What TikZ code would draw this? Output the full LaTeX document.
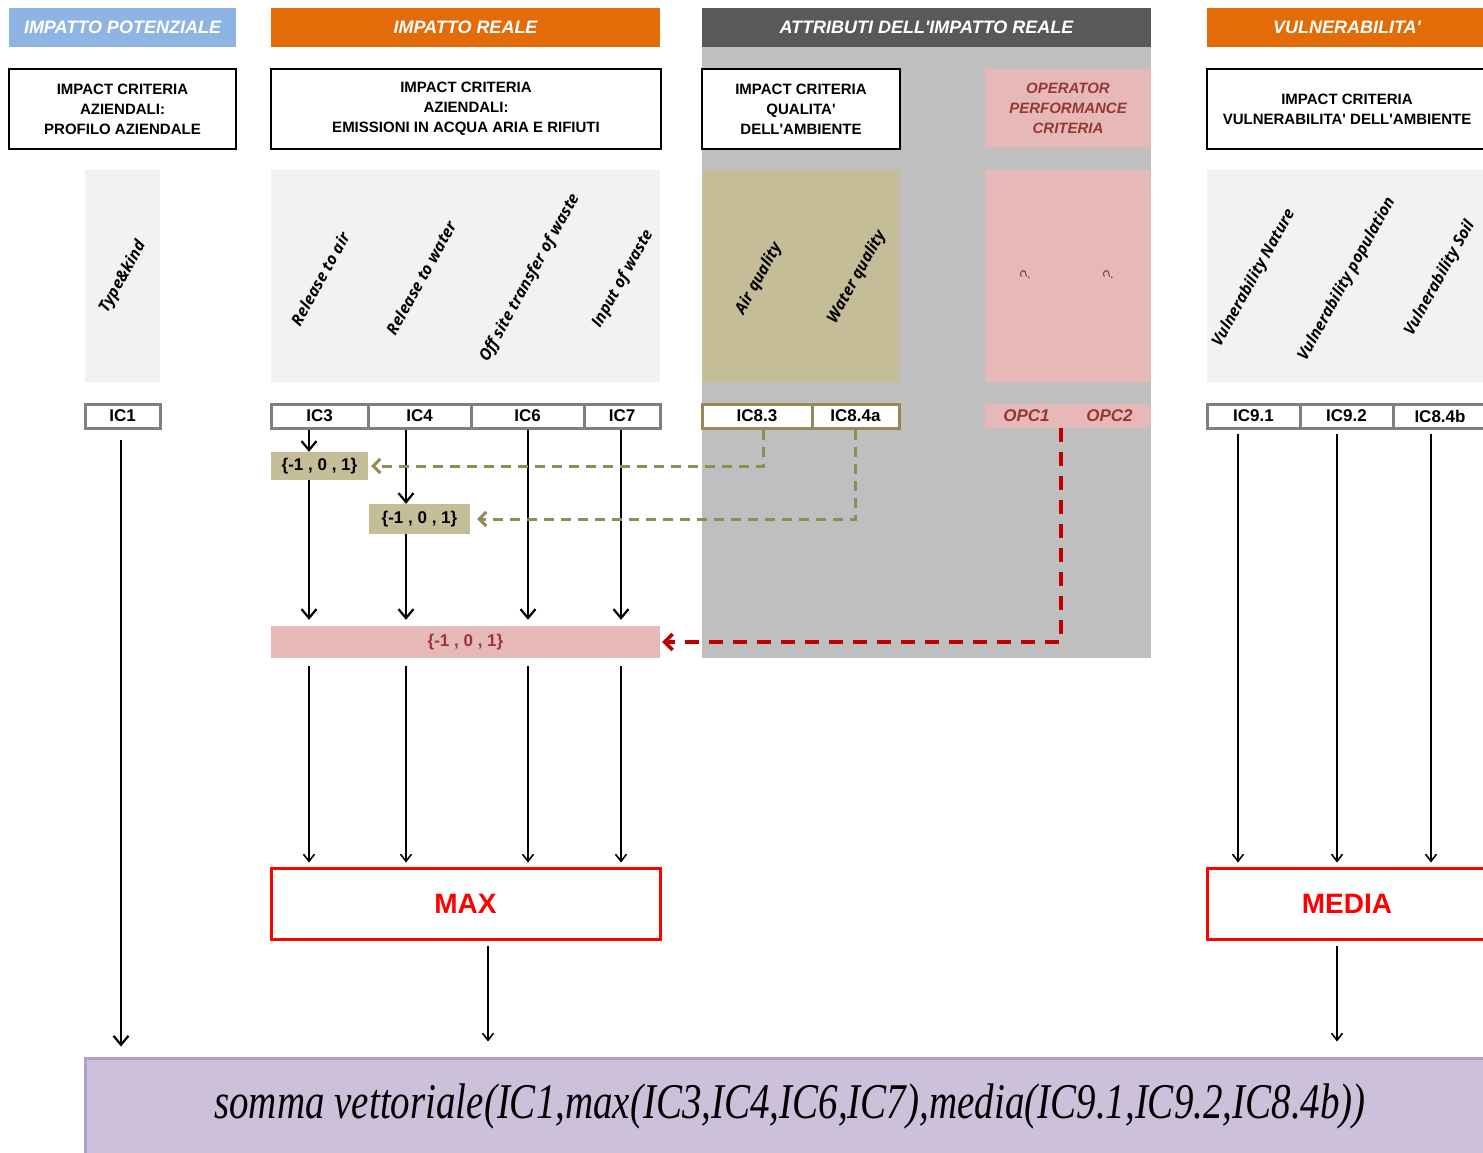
\documentclass[tikz,border=0pt]{standalone}
\usepackage{fontspec}
\setmainfont{Liberation Sans}
\newfontfamily\labfont{Open Sans}
\newfontfamily\formfont{Liberation Serif}[FakeStretch=0.78]
\usetikzlibrary{arrows.meta}
\definecolor{potblue}{RGB}{141,180,226}
\definecolor{orangeh}{RGB}{227,108,9}
\definecolor{darkh}{RGB}{89,89,89}
\definecolor{graybg}{RGB}{191,191,191}
\definecolor{lightpanel}{RGB}{242,242,242}
\definecolor{khaki}{RGB}{196,189,151}
\definecolor{khakiline}{RGB}{148,138,84}
\definecolor{pinkc}{RGB}{230,185,184}
\definecolor{opcred}{RGB}{150,55,53}
\definecolor{dashred}{RGB}{192,0,0}
\definecolor{icgray}{RGB}{128,128,128}
\definecolor{lilac}{RGB}{204,192,218}
\definecolor{lilacline}{RGB}{178,161,199}
\newcommand{\ap}{\textquotesingle}
\begin{document}
\begin{tikzpicture}
[x=1pt,y=-1pt,
 hdr/.style={text=white, font=\fontsize{18}{20}\selectfont\bfseries\itshape, minimum height=39, inner sep=0},
 crit/.style={draw=black, line width=2.5pt, fill=white, align=center, font=\fontsize{15}{20}\selectfont\bfseries, minimum height=80, inner sep=0},
 panel/.style={fill=lightpanel, minimum height=212, inner sep=0},
 lbl/.style={rotate=61, font=\labfont\fontsize{16}{18}\selectfont\bfseries\itshape},
 ic/.style={draw=icgray, line width=3pt, fill=white, minimum height=24, inner sep=0, font=\fontsize{17}{18}\selectfont\bfseries},
 opc/.style={fill=pinkc, text=opcred, inner sep=0, font=\fontsize{17}{18}\selectfont\bfseries\itshape},
 setbox/.style={fill=khaki, inner sep=0, font=\fontsize{17}{18}\selectfont\bfseries},
 result/.style={draw=red, line width=3pt, fill=white, text=red, minimum height=71, inner sep=0, font=\fontsize{28}{30}\selectfont\bfseries},
 arr/.style={line width=2.2pt, -{Straight Barb[length=9pt,width=15pt]}},
 thinarr/.style={line width=1.6pt, -{Straight Barb[length=7pt,width=11pt]}},
 kdash/.style={khakiline, line width=3pt, dash pattern=on 10pt off 7pt, -{Straight Barb[length=7pt,width=14pt]}},
 rdash/.style={dashred, line width=3.5pt, dash pattern=on 14pt off 10pt, -{Straight Barb[length=8pt,width=16pt]}}]
\useasboundingbox (0,0) rectangle (1483,1152);
\clip (0,0) rectangle (1483,1152);
\fill[white] (0,0) rectangle (1483,1152);
% fondo attributi
\fill[graybg] (702,47) rectangle (1151,658);
% intestazioni
\node[hdr, fill=potblue, minimum width=227] (hpot) at (122.5,27.5) {IMPATTO POTENZIALE};
\node[hdr, fill=orangeh, minimum width=389] (hreal) at (465.5,27.5) {IMPATTO REALE};
\node[hdr, fill=darkh, minimum width=449] (hattr) at (926.5,27.5) {ATTRIBUTI DELL\ap IMPATTO REALE};
\node[hdr, fill=orangeh, minimum width=280] (hvul) at (1347,27.5) {VULNERABILITA\ap};
% impact criteria
\node[crit, minimum width=227] (cpro) at (122.5,109) {IMPACT CRITERIA\\AZIENDALI:\\PROFILO AZIENDALE};
\node[crit, minimum width=390] (cemi) at (466,109) {IMPACT CRITERIA\\AZIENDALI:\\EMISSIONI IN ACQUA ARIA E RIFIUTI};
\node[crit, minimum width=198] (cqua) at (801,109) {IMPACT CRITERIA\\QUALITA\ap\\DELL\ap AMBIENTE};
\node[opc, align=center, font=\fontsize{15}{20}\selectfont\bfseries\itshape, minimum width=166, minimum height=78] (copc) at (1068,108) {OPERATOR\\PERFORMANCE\\CRITERIA};
\node[crit, minimum width=280] (cvul) at (1347,109) {IMPACT CRITERIA\\VULNERABILITA{\ap} DELL\ap AMBIENTE};
% pannelli
\node[panel, minimum width=75] (ptyp) at (122.5,276) {};
\node[panel, minimum width=389] (pemi) at (465.5,276) {};
\node[panel, fill=khaki, minimum width=197] (pqua) at (800.5,276) {};
\node[panel, fill=pinkc, minimum width=166] (popc) at (1068,276) {};
\node[panel, minimum width=280] (pvul) at (1347,276) {};
\node[lbl] (ltyp) at (123,277) {Type\&kind};
\node[lbl] (lair) at (320,279) {Release to air};
\node[lbl] (lwat) at (421,278) {Release to water};
\node[lbl] (loff) at (530,278) {Off site transfer of waste};
\node[lbl] (linp) at (623,279) {Input of waste};
\node[lbl] (laq) at (759,279) {Air quality};
\node[lbl] (lwq) at (857,277) {Water quality};
\node[lbl, text=opcred, font=\fontsize{15}{16}\selectfont] (lq1) at (1025,275) {?};
\node[lbl, text=opcred, font=\fontsize{15}{16}\selectfont] (lq2) at (1108,275) {?};
\node[lbl] (lvn) at (1254,278) {Vulnerability Nature};
\node[lbl] (lvp) at (1347,279) {Vulnerability population};
\node[lbl] (lvs) at (1440,278) {Vulnerability Soil};
% criteri IC
\node[ic, minimum width=75] (ic1) at (122.5,416) {IC1};
\node[ic, minimum width=97] (ic3) at (319.5,416) {IC3};
\node[ic, minimum width=103] (ic4) at (419.5,416) {IC4};
\node[ic, minimum width=113] (ic6) at (527.5,416) {IC6};
\node[ic, minimum width=76] (ic7) at (622,416) {IC7};
\node[ic, draw=khakiline, minimum width=110] (ic83) at (757,416) {IC8.3};
\node[ic, draw=khakiline, minimum width=87] (ic84a) at (855.5,416) {IC8.4a};
\node[opc, minimum width=83, minimum height=24] (opc1) at (1026.5,416) {OPC1};
\node[opc, minimum width=83, minimum height=24] (opc2) at (1109.5,416) {OPC2};
\node[ic, minimum width=93] (ic91) at (1253.5,416) {IC9.1};
\node[ic, minimum width=93] (ic92) at (1346.5,416) {IC9.2};
\node[ic, minimum width=94] (ic84b) at (1440,416) {IC8.4b};
% insiemi
\node[setbox, minimum width=97, minimum height=28] (k1) at (319.5,466) {\{-1 , 0 , 1\}};
\node[setbox, minimum width=101, minimum height=30] (k2) at (419.5,519) {\{-1 , 0 , 1\}};
\node[setbox, fill=pinkc, text=opcred, minimum width=389, minimum height=32] (ph) at (465.5,642) {\{-1 , 0 , 1\}};
\node[result, minimum width=389] (max) at (465.5,903.5) {MAX};
\node[result, minimum width=280] (media) at (1347,903.5) {MEDIA};
\node[draw=lilacline, fill=lilac, line width=3pt, minimum width=1410, minimum height=96, inner sep=0,
  font=\formfont\itshape\fontsize{50}{54}\selectfont] (sum) at (790,1106)
  {somma vettoriale(IC1,max(IC3,IC4,IC6,IC7),media(IC9.1,IC9.2,IC8.4b))};
% colonne delle frecce
\coordinate (x1) at (121,0);
\coordinate (x3) at (309,0);
\coordinate (x4) at (406,0);
\coordinate (x6) at (528,0);
\coordinate (x7) at (621,0);
\coordinate (xm) at (488,0);
\coordinate (x91) at (1238,0);
\coordinate (x92) at (1337,0);
\coordinate (x93) at (1431,0);
\coordinate (d1) at (763,0);
\coordinate (d2) at (855,0);
\coordinate (d3) at (1061,0);
% frecce
\draw[arr, shorten <=10pt, shorten >=10pt] (ic1.south -| x1) -- (sum.north -| x1);
\draw[arr] (ic3.south -| x3) -- (k1.north -| x3);
\draw[arr, shorten >=6pt] (k1.south -| x3) -- (ph.north -| x3);
\draw[arr] (ic4.south -| x4) -- (k2.north -| x4);
\draw[arr, shorten >=6pt] (k2.south -| x4) -- (ph.north -| x4);
\draw[arr, shorten >=6pt] (ic6.south -| x6) -- (ph.north -| x6);
\draw[arr, shorten >=6pt] (ic7.south -| x7) -- (ph.north -| x7);
\draw[thinarr, shorten <=8pt, shorten >=4pt] (ph.south -| x3) -- (max.north -| x3);
\draw[thinarr, shorten <=8pt, shorten >=4pt] (ph.south -| x4) -- (max.north -| x4);
\draw[thinarr, shorten <=8pt, shorten >=4pt] (ph.south -| x6) -- (max.north -| x6);
\draw[thinarr, shorten <=8pt, shorten >=4pt] (ph.south -| x7) -- (max.north -| x7);
\draw[thinarr, shorten <=5pt, shorten >=15pt] (max.south -| xm) -- (sum.north -| xm);
\draw[thinarr, shorten <=4pt, shorten >=4pt] (ic91.south -| x91) -- (media.north -| x91);
\draw[thinarr, shorten <=4pt, shorten >=4pt] (ic92.south -| x92) -- (media.north -| x92);
\draw[thinarr, shorten <=4pt, shorten >=4pt] (ic84b.south -| x93) -- (media.north -| x93);
\draw[thinarr, shorten <=5pt, shorten >=15pt] (media.south -| x92) -- (sum.north -| x92);
\draw[kdash, shorten >=3pt] (ic83.south -| d1) |- (k1.east);
\draw[kdash, shorten >=7pt] (ic84a.south -| d2) |- (k2.east);
\draw[rdash, shorten >=2pt] (opc1.south -| d3) |- (ph.east);
\end{tikzpicture}
\end{document}
